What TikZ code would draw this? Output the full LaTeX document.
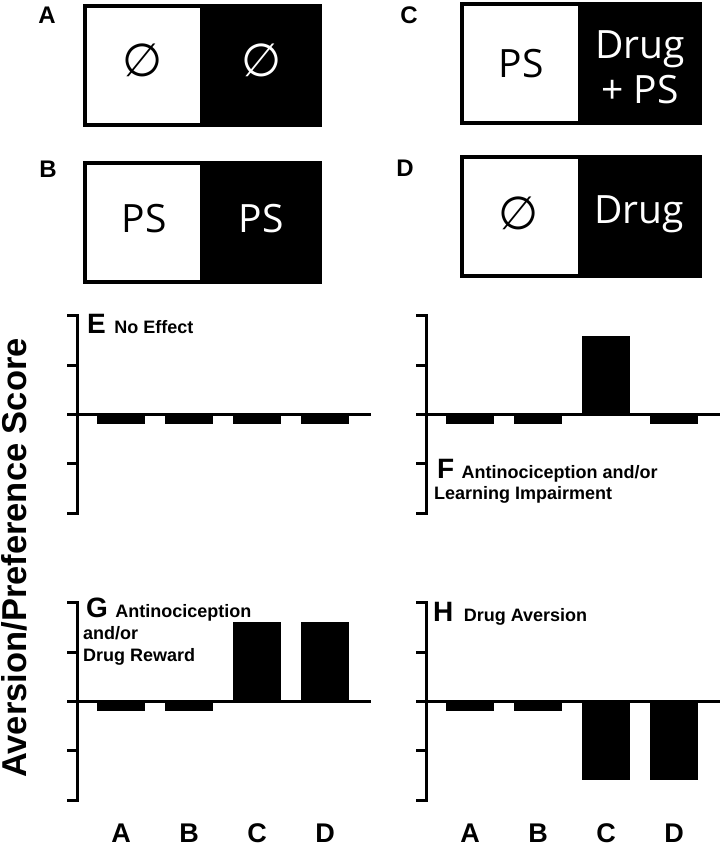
\documentclass[tikz,border=0pt]{standalone}
\usepackage{fontspec}
\setmainfont{Liberation Sans}
\newfontfamily\roomfont{Open Sans}
\newfontfamily\emptysetfont{DejaVu Sans}
\usepackage{tikz}
\usetikzlibrary{positioning}

\tikzset{
  chamber/.style={draw=black,line width=4pt},
  roomtxt/.style={font=\roomfont\fontsize{39}{45}\selectfont,align=center,inner sep=0pt},
  emptyset/.style={font=\emptysetfont\fontsize{46}{46}\selectfont,inner sep=0pt},
  boxletter/.style={font=\bfseries\fontsize{24}{24}\selectfont,inner sep=0pt,anchor=base},
  axisline/.style={line width=3pt},
  graphletter/.style={font=\bfseries\fontsize{28}{28}\selectfont,inner sep=0pt,anchor=base west},
  graphtxt/.style={font=\bfseries\fontsize{18}{22}\selectfont,inner sep=0pt,anchor=base west},
  grouplbl/.style={font=\bfseries\fontsize{27}{27}\selectfont,inner sep=0pt,anchor=base},
}

\begin{document}
\begin{tikzpicture}[x=1pt,y=-1pt]
    \useasboundingbox (0,0) rectangle (723,846);

    % Kotak A: kosong / kosong
    \fill (200,4) rectangle (322,127);
    \draw[chamber] (85,6) rectangle (320,125);
    \node[boxletter] (labA) at (47,23) {A};
    \node[emptyset] (roomAw) at (143,60) {∅};
    \node[emptyset,text=white] (roomAb) at (262,60) {∅};

    % Kotak B: PS / PS
    \fill (200,161) rectangle (322,284);
    \draw[chamber] (85,163) rectangle (320,282);
    \node[boxletter] (labB) at (48,177) {B};
    \node[roomtxt] (roomBw) at (144,219) {PS};
    \node[roomtxt,text=white] (roomBb) at (261,219) {PS};

    % Kotak C: PS / Drug + PS
    \fill (578,2) rectangle (702,125);
    \draw[chamber] (462,4) rectangle (700,123);
    \node[boxletter] (labC) at (409,23) {C};
    \node[roomtxt] (roomCw) at (521,64) {PS};
    \node[roomtxt,text=white] (roomCb) at (640,67) {Drug\\+ PS};

    % Kotak D: kosong / Drug
    \fill (578,155) rectangle (702,278);
    \draw[chamber] (462,157) rectangle (700,276);
    \node[boxletter] (labD) at (405,176) {D};
    \node[emptyset] (roomDw) at (519,213) {∅};
    \node[roomtxt,text=white,anchor=base] (roomDb) at (639,223) {Drug};

    % Sumbu, garis nol dan batang untuk grafik E, F, G, H
    \foreach \ox/\oy/\va/\vb/\vc/\vd in {77/414/10/10/10/10, 426/414/10/10/-78/10,
                                       77/701/10/10/-79/-79, 426/701/10/10/79/79} {
      \draw[axisline] (\ox-10,\oy-99) -- (\ox,\oy-99) -- (\ox,\oy+99) -- (\ox-10,\oy+99);
      \draw[axisline] (\ox-10,\oy-49) -- (\ox,\oy-49);
      \draw[axisline] (\ox-10,\oy+49) -- (\ox,\oy+49);
      \draw[axisline] (\ox-10,\oy) -- (\ox+294,\oy);
      \fill (\ox+20,\oy) rectangle +(48,\va);
      \fill (\ox+88,\oy) rectangle +(48,\vb);
      \fill (\ox+156,\oy) rectangle +(48,\vc);
      \fill (\ox+224,\oy) rectangle +(48,\vd);
    }

    % Judul tiap grafik
    \node[graphletter] (labE) at (87,333) {E};
    \node[graphtxt,right=8pt of labE.base east,anchor=base west] (txtE) {No Effect};
    \node[graphletter] (labF) at (437,478) {F};
    \node[graphtxt,right=7pt of labF.base east,anchor=base west] (txtF) {Antinociception and/or};
    \node[graphtxt] (txtF2) at (434,499) {Learning Impairment};
    \node[graphletter] (labG) at (86,617) {G};
    \node[graphtxt,right=7pt of labG.base east,anchor=base west] (txtG) {Antinociception};
    \node[graphtxt] (txtG2) at (83,639) {and/or};
    \node[graphtxt] (txtG3) at (83,661) {Drug Reward};
    \node[graphletter] (labH) at (433,621) {H};
    \node[graphtxt,right=10pt of labH.base east,anchor=base west] (txtH) {Drug Aversion};

    % Label kelompok di bawah grafik G dan H
    \foreach \gx in {77,426} {
      \foreach \name [count=\i from 0] in {A,B,C,D} {
        \node[grouplbl] (grp\gx\name) at (\gx+44+68*\i,842) {\name};
      }
    }

    % Label sumbu tegak
    \node[font=\bfseries\fontsize{34.5}{34.5}\selectfont,inner sep=0pt,anchor=base,rotate=90]
      (ylab) at (26,558) {Aversion/Preference Score};

\end{tikzpicture}
\end{document}
